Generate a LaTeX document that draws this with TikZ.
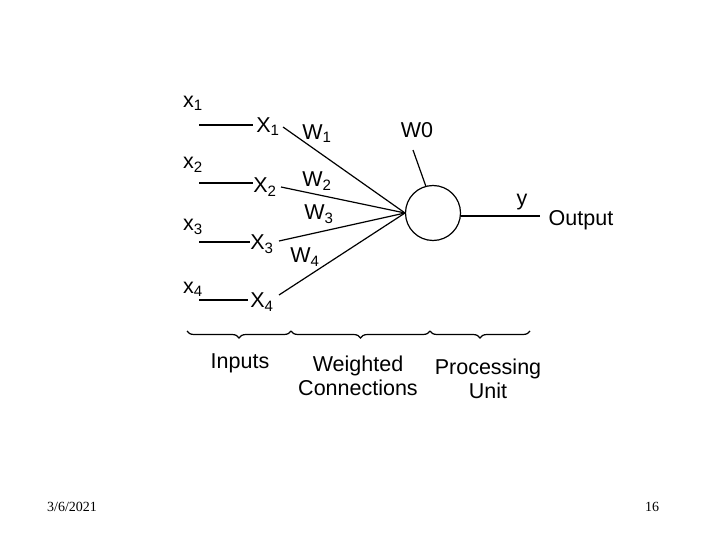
\documentclass[tikz,border=0pt]{standalone}
\usepackage{fontspec}
\setmainfont{Liberation Sans}
\newfontfamily\timesfont{Liberation Serif}
\usetikzlibrary{decorations.pathreplacing}
\begin{document}
\begin{tikzpicture}[x=1pt,y=-1pt,
  lbl/.style={inner sep=0pt,font=\fontsize{21.5}{24}\selectfont},
  wire/.style={line width=1.2pt},
  brc/.style={decorate,decoration={brace,mirror,amplitude=7pt},line width=1.2pt}]
\useasboundingbox (0,0) rectangle (720,540);
% input labels
\node[lbl] (xa) at (193,103) {x\textsubscript{1}};
\node[lbl] (xb) at (193,165) {x\textsubscript{2}};
\node[lbl] (xc) at (193,227) {x\textsubscript{3}};
\node[lbl] (xd) at (193,289) {x\textsubscript{4}};
% X labels
\node[lbl] (Xa) at (268,127) {X\textsubscript{1}};
\node[lbl] (Xb) at (265,187) {X\textsubscript{2}};
\node[lbl] (Xc) at (262,244) {X\textsubscript{3}};
\node[lbl] (Xd) at (262,302) {X\textsubscript{4}};
% input lines
\coordinate (ia) at (199,125); \coordinate (ja) at (253,125);
\coordinate (ib) at (199,183); \coordinate (jb) at (253,183);
\coordinate (ic) at (199,242); \coordinate (jc) at (250,242);
\coordinate (id) at (199,300); \coordinate (jd) at (248,300);
\draw[wire] (ia) -- (ja);
\draw[wire] (ib) -- (jb);
\draw[wire] (ic) -- (jc);
\draw[wire] (id) -- (jd);
% neuron
\node[draw,circle,line width=1.2pt,minimum size=55pt,inner sep=0pt] (n) at (433,213) {};
\coordinate (hub) at (405,213);
\coordinate (sa) at (283,127);
\coordinate (sb) at (281,187);
\coordinate (sc) at (279,241);
\coordinate (sd) at (279,295);
\draw[wire] (sa) -- (hub);
\draw[wire] (sb) -- (hub);
\draw[wire] (sc) -- (hub);
\draw[wire] (sd) -- (hub);
% weights
\node[lbl] (wa) at (317,134) {W\textsubscript{1}};
\node[lbl] (wb) at (317,181) {W\textsubscript{2}};
\node[lbl] (wc) at (319,214) {W\textsubscript{3}};
\node[lbl] (wd) at (305,257) {W\textsubscript{4}};
% bias
\node[lbl] (w0) at (417,130) {W0};
\coordinate (b0) at (413,150);
\draw[wire] (b0) -- (n.105);
% output
\coordinate (oe) at (540,216);
\draw[wire] (n.east |- oe) -- (oe);
\node[lbl] (y) at (522,202) {y};
\node[lbl] (out) at (581,220) {Output};
% braces
\coordinate (ba) at (187,331);
\coordinate (bb) at (291,331);
\coordinate (bc) at (430,331);
\coordinate (bd) at (530,331);
\draw[brc] (ba) -- (bb);
\draw[brc] (bb) -- (bc);
\draw[brc] (bc) -- (bd);
\node[lbl] (inp) at (240,363) {Inputs};
\node[lbl,align=center] (wcn) at (358,376) {Weighted\\Connections};
\node[lbl,align=center] (pu) at (488,379) {Processing\\Unit};
% footer
\node[inner sep=0pt,font=\timesfont\fontsize{14}{16}\selectfont] (date) at (72,507) {3/6/2021};
\node[inner sep=0pt,font=\timesfont\fontsize{14}{16}\selectfont] (pg) at (652,507) {16};
\end{tikzpicture}
\end{document}
